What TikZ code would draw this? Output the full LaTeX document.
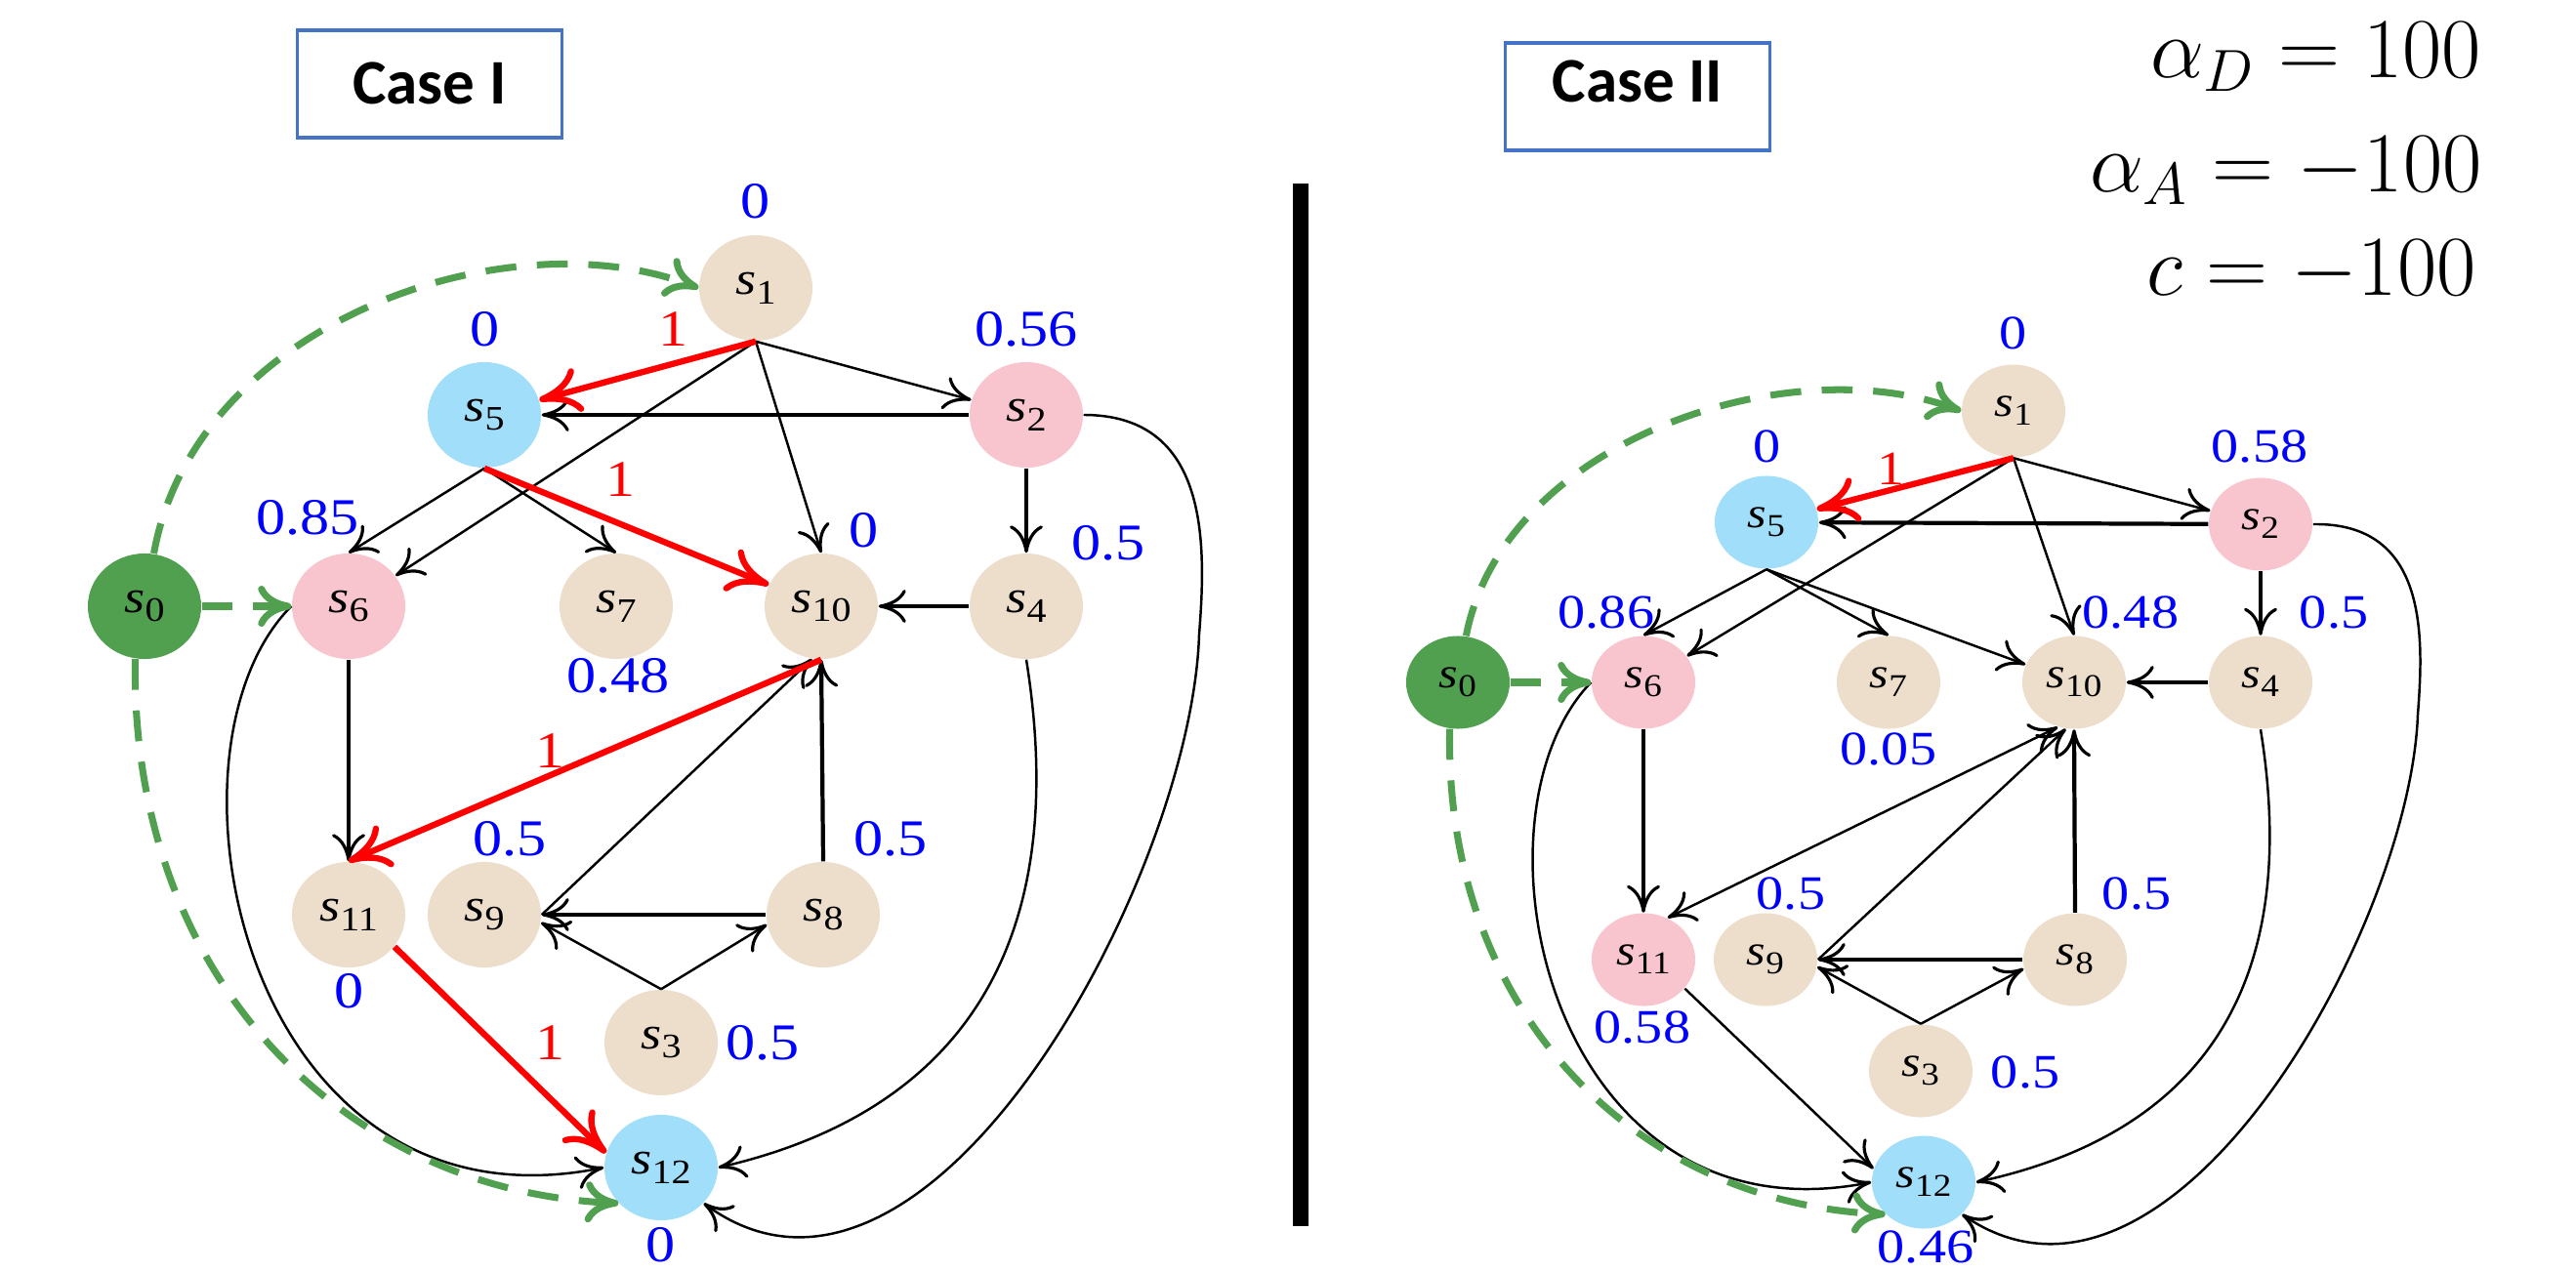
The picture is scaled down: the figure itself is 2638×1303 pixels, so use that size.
\documentclass[tikz,border=0pt]{standalone}
\usepackage{graphicx}
\usepackage{fontspec}
\setmainfont{Liberation Serif}[FakeStretch=1.14]
\newfontfamily\boxfont{Carlito}
\usetikzlibrary{arrows.meta,shapes.geometric}

\definecolor{tan}{RGB}{237,222,204}
\definecolor{rose}{RGB}{248,196,205}
\definecolor{sky}{RGB}{160,222,250}
\definecolor{leaf}{RGB}{80,160,80}
\definecolor{frame}{RGB}{68,114,196}

% state name s_i
\newcommand\sv[1]{\textit{s}\raisebox{-.45ex}{\scalebox{.74}{#1}}}

\tikzset{
  st/.style={ellipse,inner sep=0pt,minimum width=1.16cm,minimum height=1.08cm,fill=tan,font=\fontsize{13.5}{16}\selectfont},
  stb/.style={st,minimum width=1.06cm,minimum height=.95cm,font=\fontsize{12.5}{15}\selectfont},
  val/.style={inner sep=0pt,text=blue,font=\fontsize{15}{18}\selectfont},
  valb/.style={val,font=\fontsize{14}{17}\selectfont},
  wt/.style={val,text=red},
  wtb/.style={valb,text=red},
  tip/.style={-{To[length=2.8mm,width=3.4mm,line width=.9pt]}},
  ed/.style={line width=.7pt,tip},
  thk/.style={ed,line width=1.2pt},
  hot/.style={red,line width=1.8pt,-{To[length=4.2mm,width=4.6mm]}},
  init/.style={leaf,line width=2pt,dash pattern=on 9pt off 6pt,-{To[length=3.4mm,width=4.2mm]}},
  casebox/.style={draw=frame,line width=.9pt,minimum width=2.71cm,minimum height=1.1cm,inner sep=0pt,text height=.41cm,font=\boxfont\bfseries\fontsize{18.5}{22}\selectfont},
  param/.style={anchor=base east,inner sep=0pt,font=\fontsize{26}{30}\selectfont}
}

\begin{document}
\begin{tikzpicture}[x=.01cm,y=-.01cm]
\useasboundingbox (0,0) rectangle (2638,1303);

\node[casebox,text depth=0pt] (c1) at (440,86) {Case I};
\node[casebox,text depth=.3cm] (c2) at (1677,99) {Case II};
\draw[line width=4.5pt] (1332,188) -- (1332,1256);

\node[param] (pd) at (2542,80) {$\alpha_D = 100$};
\node[param] (pa) at (2542,196) {$\alpha_A = -100$};
\node[param] (pc) at (2536,302) {$c = -100$};

% case I
\node[st,fill=leaf] (a0) at (148,621) {\sv0};
\node[st] (a1) at (774,295) {\sv1};
\node[st,fill=rose] (a2) at (1051,425) {\sv2};
\node[st] (a3) at (677,1068) {\sv3};
\node[st] (a4) at (1051,621) {\sv4};
\node[st,fill=sky] (a5) at (496,425) {\sv5};
\node[st,fill=rose] (a6) at (357,621) {\sv6};
\node[st] (a7) at (631,621) {\sv7};
\node[st] (a8) at (843,937) {\sv8};
\node[st] (a9) at (496,937) {\sv9};
\node[st] (a10) at (841,621) {\sv{10}};
\node[st] (a11) at (357,937) {\sv{11}};
\node[st,fill=sky] (a12) at (677,1196) {\sv{12}};

\node[val] (a1v) at (774,206) {0};
\node[val] (a5v) at (497,337) {0};
\node[val] (a2v) at (1051,337) {0.56};
\node[val] (a6v) at (315,530) {0.85};
\node[val] (a10v) at (885,543) {0};
\node[val] (a4v) at (1135,556) {0.5};
\node[val] (a7v) at (633,692) {0.48};
\node[val] (a9v) at (522,859) {0.5};
\node[val] (a8v) at (912,859) {0.5};
\node[val] (a11v) at (358,1015) {0};
\node[val] (a3v) at (781,1068) {0.5};
\node[val] (a12v) at (677,1275) {0};

\draw[ed] (a1.south) -- (a6);
\draw[ed] (a1.south) -- (a10.north);
\draw[ed] (a1.south) -- (a2);
\draw[thk] (a2) -- (a5);
\draw[thk] (a2) -- (a4);
\draw[thk] (a4) -- (a10);
\draw[ed] (a5.south) -- (a6.north);
\draw[ed] (a5.south) -- (a7.north);
\draw[thk] (a6.south) -- (a11.north);
\draw[ed] (a9.east) -- (a10.260);
\draw[thk] (a8.north) -- (a10.south);
\draw[thk] (a8.west) -- (a9.east);
\draw[ed] (a3.north) -- (a9.-8);
\draw[ed] (a3.north) -- (a8.190);
\draw[ed] (a6.west) .. controls (150,770) and (250,1270) .. (a12.west);
\draw[ed] (a4.south) .. controls (1095,950) and (1000,1135) .. (a12.east);
\draw[ed] (a2.east) .. controls (1240,425) and (1235,560) .. (1228,650) .. controls (1220,900) and (950,1400) .. (a12.-40);
\draw[hot] (a1.south) -- (a5);
\draw[hot] (a5.south) -- (a10);
\draw[hot] (a10.south) -- (a11.north);
\draw[hot] (a11.-35) -- (a12.165);
\draw[init] (a0.80) .. controls (200,330) and (520,220) .. (a1.west);
\draw[init] (a0.east) -- (a6.west);
\draw[init] (a0.-100) .. controls (133,1000) and (350,1220) .. (a12.-140);

\node[wt] (w1) at (690,337) {1};
\node[wt] (w2) at (636,491) {1};
\node[wt] (w3) at (564,769) {1};
\node[wt] (w4) at (564,1068) {1};

% case II
\node[stb,fill=leaf] (b0) at (1493,699) {\sv0};
\node[stb] (b1) at (2062,421) {\sv1};
\node[stb,fill=rose] (b2) at (2315,537) {\sv2};
\node[stb] (b3) at (1967,1097) {\sv3};
\node[stb] (b4) at (2315,699) {\sv4};
\node[stb,fill=sky] (b5) at (1809,535) {\sv5};
\node[stb,fill=rose] (b6) at (1683,699) {\sv6};
\node[stb] (b7) at (1934,699) {\sv7};
\node[stb] (b8) at (2125,983) {\sv8};
\node[stb] (b9) at (1808,983) {\sv9};
\node[stb] (b10) at (2124,699) {\sv{10}};
\node[stb,fill=rose] (b11) at (1683,983) {\sv{11}};
\node[stb,fill=sky] (b12) at (1970,1211) {\sv{12}};

\node[valb] (b1v) at (2062,341) {0};
\node[valb] (b5v) at (1810,457) {0};
\node[valb] (b2v) at (2314,457) {0.58};
\node[valb] (b6v) at (1645,627) {0.86};
\node[valb] (b10v) at (2182,627) {0.48};
\node[valb] (b4v) at (2390,627) {0.5};
\node[valb] (b7v) at (1934,767) {0.05};
\node[valb] (b9v) at (1834,915) {0.5};
\node[valb] (b8v) at (2188,915) {0.5};
\node[valb] (b11v) at (1682,1052) {0.58};
\node[valb] (b3v) at (2074,1098) {0.5};
\node[valb] (b12v) at (1972,1277) {0.46};

\draw[ed] (b1.south) -- (b6);
\draw[ed] (b1.south) -- (b10.north);
\draw[ed] (b1.south) -- (b2);
\draw[thk] (b2) -- (b5);
\draw[thk] (b2) -- (b4);
\draw[thk] (b4) -- (b10);
\draw[ed] (b5.south) -- (b6.north);
\draw[ed] (b5.south) -- (b7.north);
\draw[ed] (b5.south) -- (b10);
\draw[thk] (b6.south) -- (b11.north);
\draw[ed,{To[length=2.8mm,width=3.4mm,line width=.9pt]}-{To[length=2.8mm,width=3.4mm,line width=.9pt]}] (b10.250) -- (b11.60);
\draw[ed] (b9.east) -- (b10.260);
\draw[thk] (b8.north) -- (b10.south);
\draw[thk] (b8.west) -- (b9.east);
\draw[ed] (b3.north) -- (b9.-8);
\draw[ed] (b3.north) -- (b8.190);
\draw[ed] (b11.-35) -- (b12.165);
\draw[ed] (b6.west) .. controls (1495,838) and (1586,1276) .. (b12.west);
\draw[ed] (b4.south) .. controls (2355,995) and (2268,1158) .. (b12.east);
\draw[ed] (b2.east) .. controls (2487,535) and (2482,653) .. (2476,732) .. controls (2468,952) and (2223,1390) .. (b12.-40);
\draw[hot] (b1.south) -- (b5);
\draw[init] (b0.80) .. controls (1540,452) and (1831,355) .. (b1.west);
\draw[init] (b0.east) -- (b6.west);
\draw[init] (b0.-100) .. controls (1479,1039) and (1677,1232) .. (b12.-140);

\node[wtb] (wb1) at (1937,480) {1};
\end{tikzpicture}
\end{document}
